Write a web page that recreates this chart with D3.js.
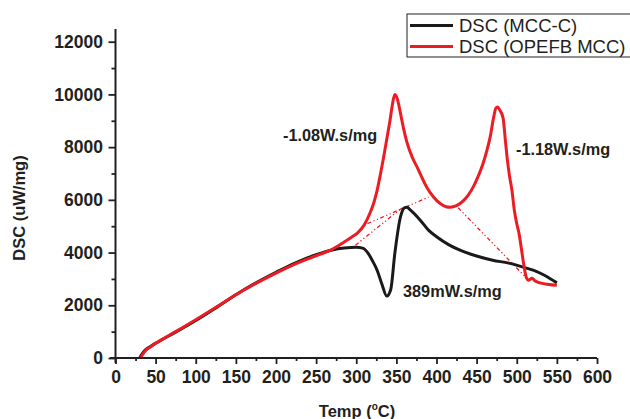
<!DOCTYPE html>
<html><head><meta charset="utf-8">
<script src="https://cdn.jsdelivr.net/npm/d3@7"></script>
<style>body{margin:0;background:#fff}svg{display:block}text{font-family:"Liberation Sans",Arial,sans-serif}</style>
</head><body>
<svg id="c" width="630" height="419"></svg>
<script>
// ---- data ----
const seriesNames = ["DSC (MCC-C)", "DSC (OPEFB MCC)"];
const mccTemp = [30,33,37,44,50,60,75,100,125,150,175,200,225,250,270,285,300,308,314,320,326,332,338,343,348,355,360,363,368,380,390,401,415,430,450,470,490,513,525,535,550];
const mccDsc  = [0,150,300,450,560,730,980,1420,1900,2400,2850,3250,3620,3920,4100,4170,4200,4170,4010,3700,3330,2800,2350,2600,3950,5340,5700,5720,5600,5220,4850,4580,4300,4080,3870,3710,3600,3400,3280,3130,2850];
const opefbTemp = [31,34,38,44,50,60,75,100,125,150,175,200,225,250,270,285,295,301,310,317,322,326,330,334,338,342,345,348,351,355,359,363,370,376,388,396,405,412,417,425,433,440,446,452,458,463,467,471,474,476,479,483,486,488,491,494,497,500,503,506,509,512,515,519,523,530,540,550];
const opefbDsc  = [0,150,300,430,560,740,1000,1450,1920,2400,2830,3220,3580,3880,4120,4400,4600,4730,5050,5490,5900,6360,6950,7600,8300,9000,9600,10000,9850,9300,8700,8200,7600,7230,6470,6120,5850,5740,5720,5780,5950,6200,6500,6900,7380,7900,8400,9100,9480,9520,9400,9100,8200,7600,6900,6360,5600,5100,4700,4100,3500,3050,2950,3030,2920,2840,2790,2760];
const baseA_T = [299, 358], baseA_D = [4280, 5720];
const baseB_T = [314, 390], baseB_D = [5100, 6100];
const baseC_T = [427, 510], baseC_D = [5700, 3100];
const xTicks = [0,50,100,150,200,250,300,350,400,450,500,550,600];
const yTicks = [0,2000,4000,6000,8000,10000,12000];
const annotations = ["-1.08W.s/mg", "-1.18W.s/mg", "389mW.s/mg"];

// ---- drawing ----
const svg = d3.select("#c");
const axisCol = "#231f20", blk = "#1a1a1a", red = "#ec1c24";
const x = d3.scaleLinear().domain([0,600]).range([115.5,597]);
const y = d3.scaleLinear().domain([0,12000]).range([358,41.7]);

const line = d3.line().x(d=>x(d[0])).y(d=>y(d[1])).curve(d3.curveMonotoneX);
const zip = (a,b)=>a.map((v,i)=>[v,b[i]]);

[[baseA_T,baseA_D],[baseB_T,baseB_D],[baseC_T,baseC_D]].forEach(([t,d])=>{
  svg.append("path").attr("d", d3.line().x(v=>x(v[0])).y(v=>y(v[1]))(zip(t,d)))
    .attr("fill","none").attr("stroke",red).attr("stroke-width",1.3)
    .attr("stroke-dasharray","4,2.5,1.2,2.5,1.2,2.5");
});

svg.append("path").attr("d", line(zip(mccTemp,mccDsc))).attr("fill","none")
  .attr("stroke",blk).attr("stroke-width",3).attr("stroke-linejoin","round");
svg.append("path").attr("d", line(zip(opefbTemp,opefbDsc))).attr("fill","none")
  .attr("stroke",red).attr("stroke-width",3).attr("stroke-linejoin","round");

// axes
const gx = svg.append("g").attr("transform","translate(0,358)");
gx.call(d3.axisBottom(x).tickValues(d3.range(25,600,50)).tickSize(3).tickFormat(""));
const gx2 = svg.append("g").attr("transform","translate(0,358)");
gx2.call(d3.axisBottom(x).tickValues(xTicks).tickSize(6).tickFormat(d3.format("d")));
[gx,gx2].forEach(g=>{g.select(".domain").remove(); g.selectAll(".tick line").attr("stroke",axisCol).attr("stroke-width",1.8);});
gx2.selectAll(".tick text").attr("y",13).attr("font-size","17.5px").attr("font-weight","bold")
  .attr("fill",axisCol).style("font-family","'Liberation Sans',Arial,sans-serif");

const gy = svg.append("g").attr("transform","translate(115.5,0)");
gy.call(d3.axisLeft(y).tickValues(d3.range(1000,12001,2000)).tickSize(4).tickFormat(""));
const gy2 = svg.append("g").attr("transform","translate(115.5,0)");
gy2.call(d3.axisLeft(y).tickValues(yTicks).tickSize(7).tickFormat(d3.format("d")));
[gy,gy2].forEach(g=>{g.select(".domain").remove(); g.selectAll(".tick line").attr("stroke",axisCol).attr("stroke-width",1.8);});
gy2.selectAll(".tick text").attr("x",-12.5).attr("font-size","17.5px").attr("font-weight","bold")
  .attr("fill",axisCol).style("font-family","'Liberation Sans',Arial,sans-serif");

svg.append("line").attr("x1",115.5).attr("x2",115.5).attr("y1",29).attr("y2",363)
  .attr("stroke",axisCol).attr("stroke-width",2);
svg.append("line").attr("x1",110).attr("x2",597).attr("y1",358).attr("y2",358)
  .attr("stroke",axisCol).attr("stroke-width",2);

// axis titles
const xt = svg.append("text").attr("x",357).attr("y",417).attr("text-anchor","middle")
  .attr("font-size","16.5px").attr("font-weight","bold").attr("fill",axisCol);
xt.append("tspan").text("Temp (");
xt.append("tspan").attr("font-size","10px").attr("dy",-7).text("o");
xt.append("tspan").attr("dy",7).text("C)");
svg.append("text").attr("transform","translate(25,208) rotate(-90)").attr("text-anchor","middle")
  .attr("font-size","16.5px").attr("font-weight","bold").attr("fill",axisCol).text("DSC (uW/mg)");

// annotations
const ann = [[283,140.5],[516,154.5],[403,297]];
annotations.forEach((t,i)=>svg.append("text").attr("x",ann[i][0]).attr("y",ann[i][1])
  .attr("font-size","16.3px").attr("font-weight","bold").attr("fill",axisCol).text(t));

// legend
svg.append("rect").attr("x",407).attr("y",14).attr("width",260).attr("height",43)
  .attr("fill","#fff").attr("stroke",axisCol).attr("stroke-width",1);
[[blk,25.5],[red,46.5]].forEach(([c,yy],i)=>{
  svg.append("line").attr("x1",410).attr("x2",453).attr("y1",yy).attr("y2",yy)
    .attr("stroke",c).attr("stroke-width",3.2);
  svg.append("text").attr("x",459).attr("y",yy+6.5).attr("font-size","18.5px")
    .attr("fill",axisCol).text(seriesNames[i]);
});
</script>
</body></html>
